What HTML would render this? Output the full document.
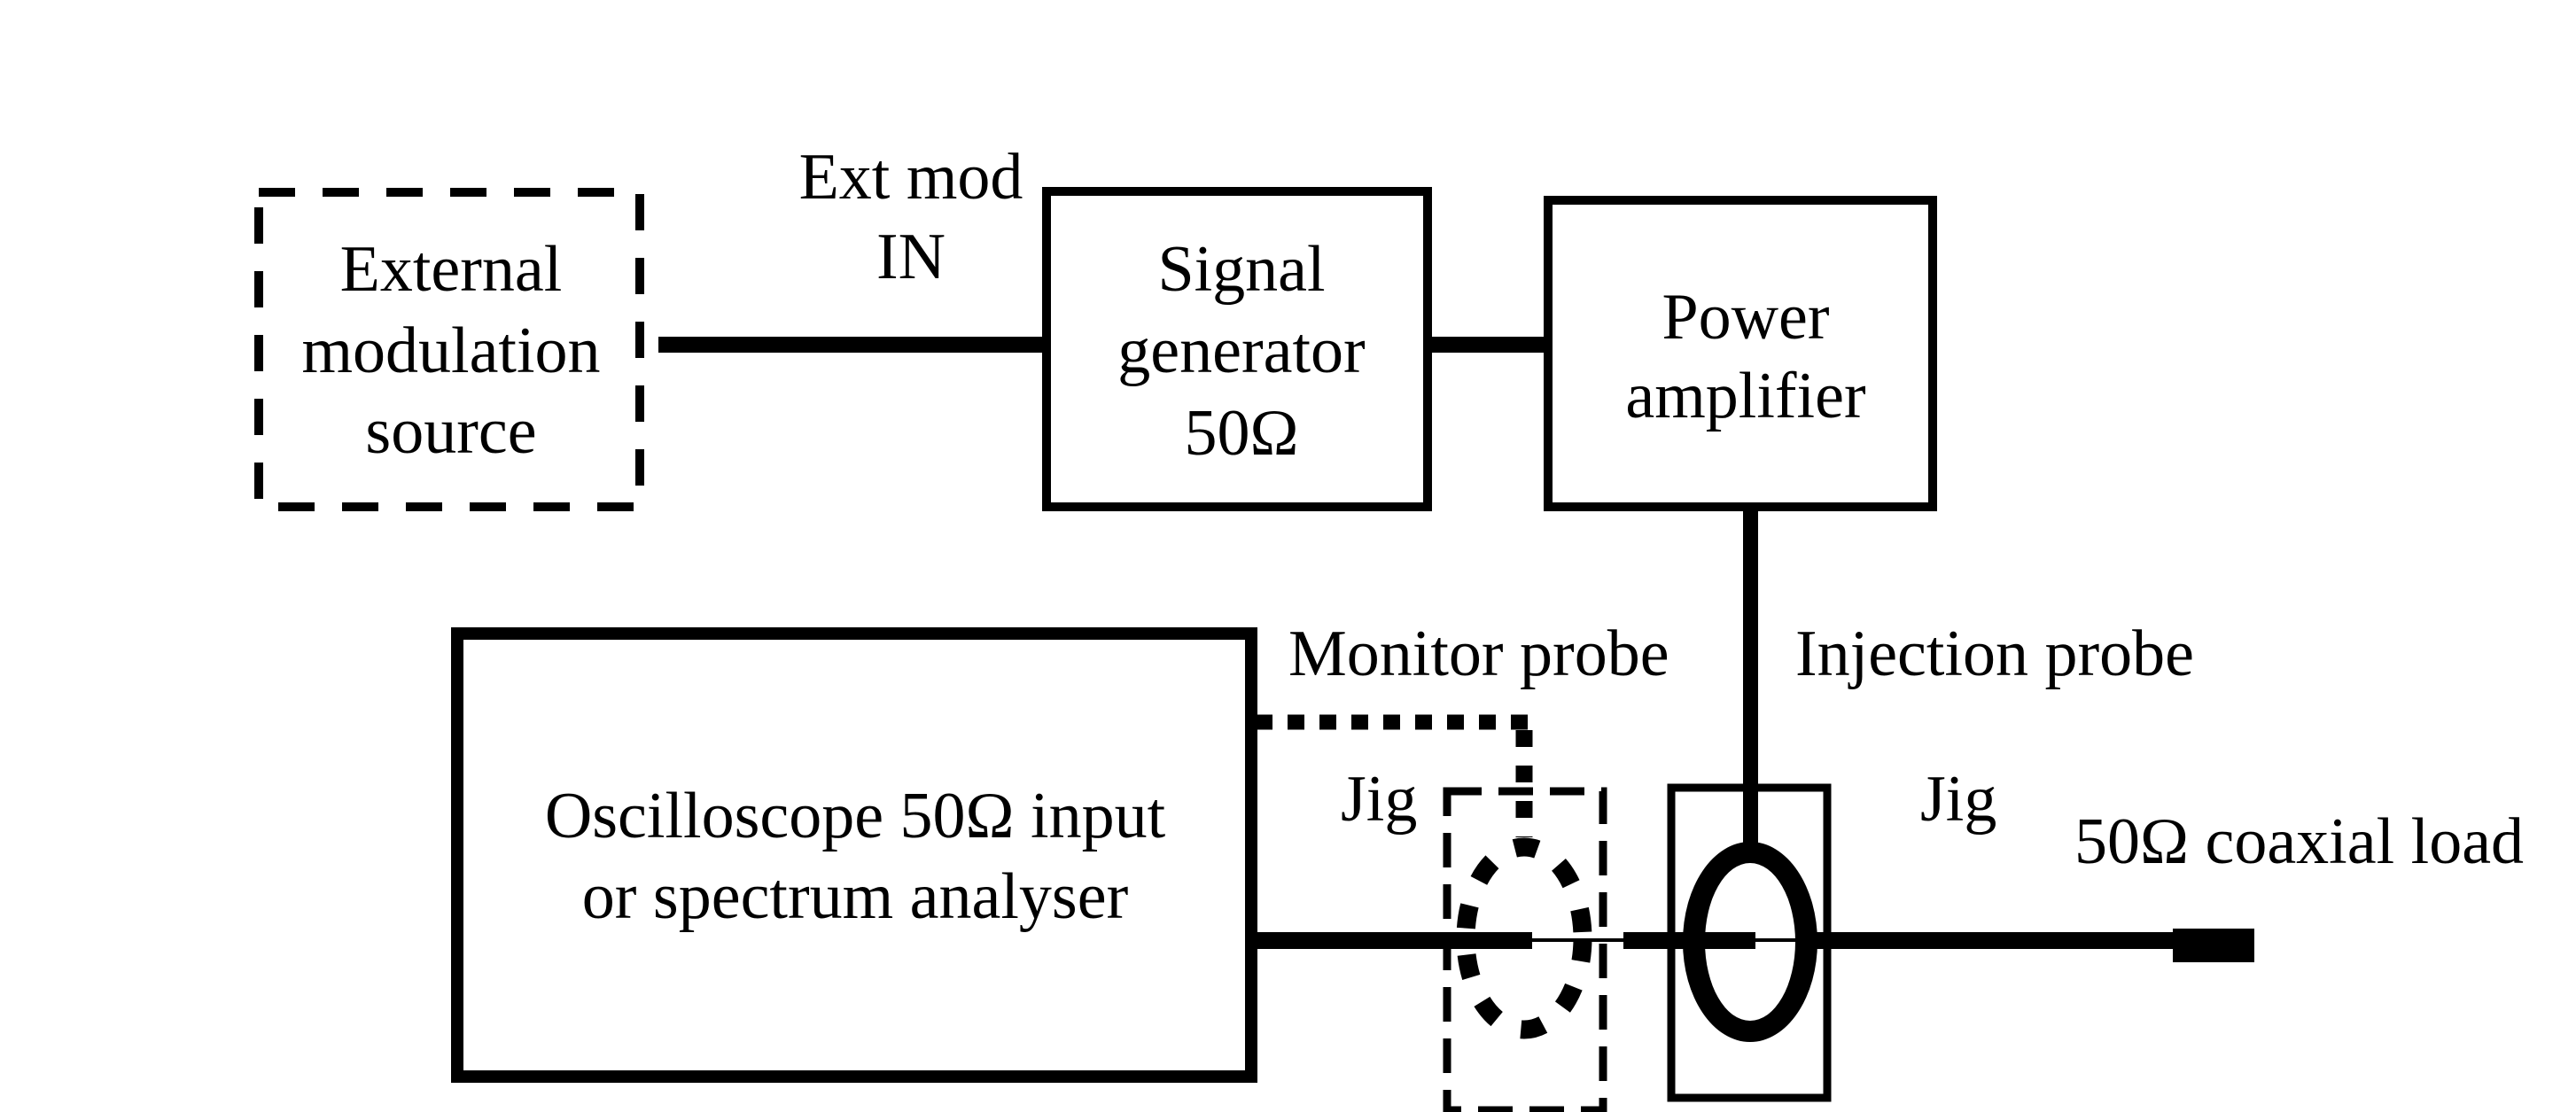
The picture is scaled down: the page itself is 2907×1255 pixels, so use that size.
<!DOCTYPE html>
<html><head><meta charset="utf-8"><style>
html,body{margin:0;padding:0;background:#fff;}
svg{display:block;}
text{font-family:"Liberation Serif",serif;font-size:74px;fill:#000;}
</style></head><body>
<svg width="2907" height="1255" viewBox="0 0 2907 1255" xmlns="http://www.w3.org/2000/svg">
<rect width="2907" height="1255" fill="#fff"/>
<rect x="292" y="217" width="430" height="355" fill="none" stroke="#000" stroke-width="10" stroke-dasharray="41 31"/>
<rect x="1181" y="216" width="430" height="356" fill="none" stroke="#000" stroke-width="10"/>
<rect x="1747" y="226" width="434" height="346" fill="none" stroke="#000" stroke-width="10"/>
<rect x="743" y="380" width="438" height="18" fill="#000"/>
<rect x="1611" y="380" width="136" height="18" fill="#000"/>
<rect x="1967" y="572" width="17" height="380" fill="#000"/>
<rect x="516" y="715" width="896" height="500" fill="none" stroke="#000" stroke-width="14"/>
<line x1="1417" y1="815" x2="1729" y2="815" stroke="#000" stroke-width="17" stroke-dasharray="19 17"/>
<line x1="1720" y1="824" x2="1720" y2="945" stroke="#000" stroke-width="19" stroke-dasharray="19 21"/>
<rect x="1633" y="893" width="176" height="360" fill="none" stroke="#000" stroke-width="9" stroke-dasharray="39 19"/>
<rect x="1417" y="1052" width="312" height="19" fill="#000"/>
<rect x="1729" y="1059" width="103" height="4" fill="#000"/>
<rect x="1832" y="1052" width="149" height="19" fill="#000"/>
<rect x="1981" y="1059" width="69" height="4" fill="#000"/>
<rect x="2050" y="1052" width="402" height="19" fill="#000"/>
<rect x="2452" y="1048" width="92" height="38" fill="#000"/>
<ellipse cx="1720" cy="1059" rx="66" ry="103" fill="none" stroke="#000" stroke-width="21" stroke-dasharray="26 30"/>
<rect x="1886" y="889" width="176" height="350" fill="none" stroke="#000" stroke-width="9"/>
<ellipse cx="1975" cy="1063" rx="76" ry="113" fill="#000"/>
<ellipse cx="1975" cy="1063" rx="51" ry="89" fill="#fff"/>
<rect x="1981" y="1059" width="45" height="4" fill="#000"/>
<rect x="1924" y="1052" width="57" height="19" fill="#000"/>
<text x="1028" y="224" text-anchor="middle">Ext mod</text>
<text x="1028" y="314" text-anchor="middle">IN</text>
<text x="509" y="328" text-anchor="middle">External</text>
<text x="509" y="420" text-anchor="middle">modulation</text>
<text x="509" y="511" text-anchor="middle">source</text>
<text x="1401" y="328" text-anchor="middle">Signal</text>
<text x="1401" y="420" text-anchor="middle">generator</text>
<text x="1401" y="513" text-anchor="middle">50Ω</text>
<text x="1970" y="382" text-anchor="middle">Power</text>
<text x="1970" y="471" text-anchor="middle">amplifier</text>
<text x="1454" y="762">Monitor probe</text>
<text x="2026" y="762">Injection probe</text>
<text x="1513" y="926">Jig</text>
<text x="2167" y="926">Jig</text>
<text x="2341" y="974">50Ω coaxial load</text>
<text x="965" y="945" text-anchor="middle">Oscilloscope 50Ω input</text>
<text x="965" y="1036" text-anchor="middle">or spectrum analyser</text>
</svg>
</body></html>
